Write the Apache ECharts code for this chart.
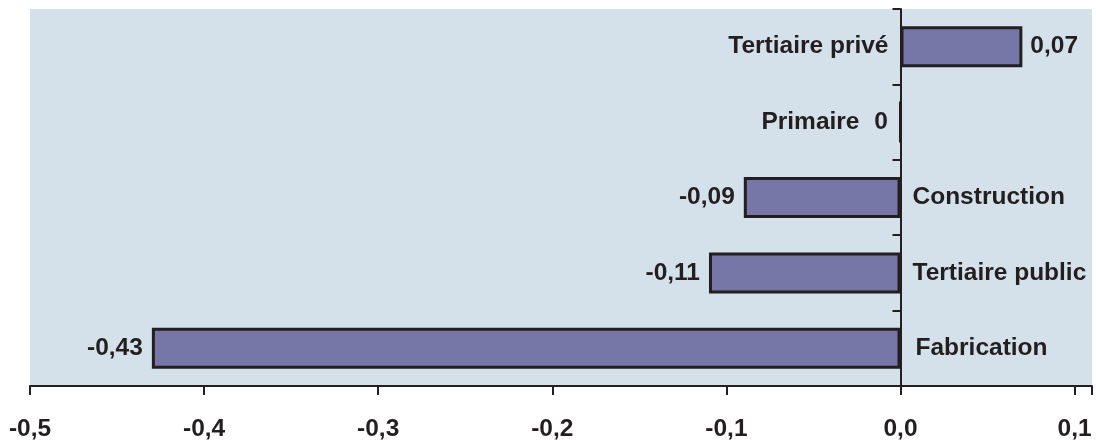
<!DOCTYPE html>
<html>
<head>
<meta charset="utf-8">
<script src="https://cdn.jsdelivr.net/npm/echarts@6/dist/echarts.min.js"></script>
<style>
  html, body { margin: 0; padding: 0; background: #ffffff; }
  #chart { width: 1096px; height: 440px; }
</style>
</head>
<body>
<div id="chart"></div>
<script>
// Sectors, listed from the bottom bar to the top bar
const categories = ['Fabrication', 'Tertiaire public', 'Construction', 'Primaire', 'Tertiaire privé'];
const values = [-0.43, -0.11, -0.09, 0, 0.07];
const tickValues = [-0.5, -0.4, -0.3, -0.2, -0.1, 0, 0.1];

const INK = '#231f20';
const FONT = '"Liberation Sans", Arial, sans-serif';

function fmtValue(v) {
  return v === 0 ? '0' : v.toFixed(2).replace('.', ',');
}

// value label sits at the far end of each bar, the sector name beside the zero line
const valueData = values.map(function (v) {
  let pos = v > 0 ? 'right' : 'left';
  let dist = v > 0 ? 8 : (v === 0 ? 11 : 9);
  return { value: v, label: { position: pos, distance: dist } };
});
const nameData = values.map(function (v, i) {
  let pos = v < 0 ? 'right' : 'left';
  let dist = v < 0 ? 12 : (v === 0 ? 41 : 12);
  if (categories[i] === 'Fabrication') dist = 15;
  return { value: v, label: { position: pos, distance: dist } };
});

const labelText = { color: INK, fontFamily: FONT, fontWeight: 'bold', fontSize: 24.5 };

const chart = echarts.init(document.getElementById('chart'), null, { renderer: 'canvas' });
chart.setOption({
  animation: false,
  backgroundColor: '#ffffff',
  grid: {
    left: 30, right: 4, top: 9, bottom: 54,
    outerBoundsMode: 'none',
    containLabel: false,
    show: true, backgroundColor: '#d5e1ea', borderWidth: 0
  },
  xAxis: {
    type: 'value',
    min: -0.5, max: 0.11, interval: 0.1,
    position: 'bottom',
    splitLine: { show: false },
    axisLine: { show: true, lineStyle: { color: INK, width: 2 } },
    axisTick: {
      show: true, length: 9, inside: false,
      customValues: tickValues.concat([0.11]),
      lineStyle: { color: INK, width: 2 }
    },
    axisLabel: Object.assign({
      margin: 31,
      customValues: tickValues,
      formatter: function (v) { return v.toFixed(1).replace('.', ','); }
    }, labelText)
  },
  yAxis: {
    type: 'category',
    position: 'right',
    data: categories,
    axisLine: { show: true, onZero: true, lineStyle: { color: INK, width: 2 } },
    axisTick: { show: true, length: 8, inside: true, alignWithLabel: false, lineStyle: { color: INK, width: 2 } },
    axisLabel: { show: false },
    splitLine: { show: false }
  },
  series: [
    {
      name: 'valeur',
      type: 'bar',
      data: valueData,
      barWidth: 41,
      z: 3,
      itemStyle: { color: '#7777a7', borderColor: INK, borderWidth: 3 },
      label: Object.assign({ show: true, formatter: function (p) { return fmtValue(p.value); } }, labelText)
    },
    {
      name: 'secteur',
      type: 'bar',
      data: nameData,
      barWidth: 41,
      barGap: '-100%',
      silent: true,
      z: 1,
      itemStyle: { color: 'rgba(0,0,0,0)', borderWidth: 0 },
      label: Object.assign({ show: true, formatter: function (p) { return categories[p.dataIndex]; } }, labelText)
    }
  ]
});
</script>
</body>
</html>
